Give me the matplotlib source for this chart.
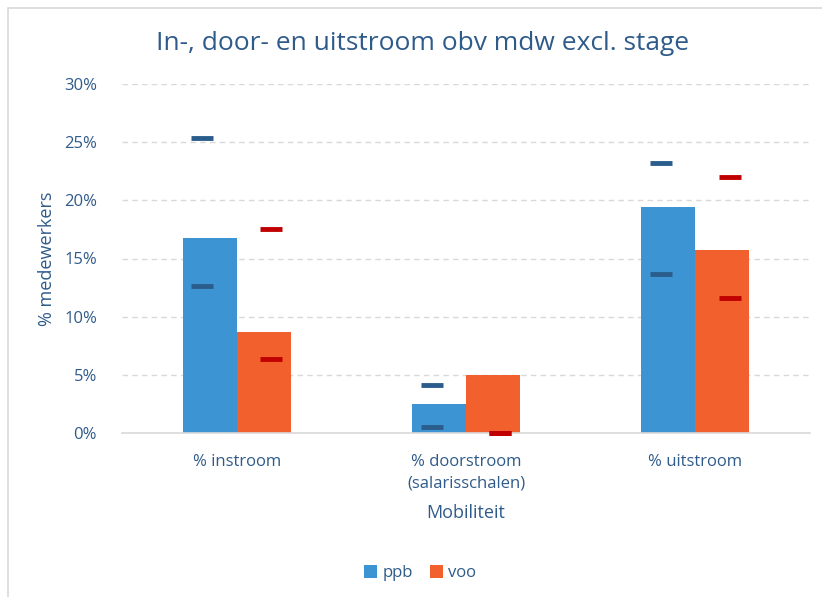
import matplotlib.pyplot as plt
import numpy as np
from matplotlib.patches import Rectangle

categories = ["% instroom", "% doorstroom\n(salarisschalen)", "% uitstroom"]
ppb = [16.8, 2.5, 19.4]
voo = [8.7, 5.0, 15.7]
ppb_high = [25.4, 4.1, 23.2]
ppb_low = [12.6, 0.5, 13.7]
voo_high = [17.5, 0.0, 22.0]
voo_low = [6.4, 0.0, 11.6]

TXT = "#2F5B8A"
C_PPB = "#3C94D3"
C_VOO = "#F2602E"
C_PPB_M = "#2B5D8C"
C_VOO_M = "#C00000"

plt.rcParams['font.family'] = ['Open Sans', 'DejaVu Sans']

fig = plt.figure(figsize=(8.22, 5.97), dpi=100)
ax = fig.add_axes([122 / 822, 1 - 433 / 597, 688 / 822, 349 / 597])

# outer chart border (cropped at right/bottom)
fig.patches.append(Rectangle((8 / 822, -0.1), 2, 1 - 8 / 597 + 0.1,
                             transform=fig.transFigure, fill=False,
                             edgecolor="#D9D9D9", linewidth=1.2))

x = np.arange(len(categories))
w = 0.236
ax.bar(x - w / 2, ppb, w, color=C_PPB, label="ppb", zorder=2)
ax.bar(x + w / 2, voo, w, color=C_VOO, label="voo", zorder=2)

off = 0.15
ax.scatter(x - off, ppb_high, marker="_", s=230, linewidths=3.5, color=C_PPB_M, zorder=3)
ax.scatter(x - off, ppb_low, marker="_", s=230, linewidths=3.5, color=C_PPB_M, zorder=3)
ax.scatter(x + off, voo_high, marker="_", s=230, linewidths=3.5, color=C_VOO_M, zorder=3, clip_on=False)
ax.scatter(x + off, voo_low, marker="_", s=230, linewidths=3.5, color=C_VOO_M, zorder=3, clip_on=False)

ax.set_xlim(-0.5, 2.5)
ax.set_ylim(0, 30)
ax.set_yticks(range(0, 31, 5))
ax.set_yticklabels([f"{v}%" for v in range(0, 31, 5)])
ax.set_xticks(x)
ax.set_xticklabels(categories, linespacing=1.5)
ax.tick_params(axis="both", length=0, colors=TXT, labelsize=12)
ax.tick_params(axis="y", pad=18)
ax.tick_params(axis="x", pad=15)
ax.yaxis.grid(True, color="#D9D9D9", linestyle=(0, (4, 3)), linewidth=1, zorder=0)
ax.set_axisbelow(True)
for s in ["top", "right", "left"]:
    ax.spines[s].set_visible(False)
ax.spines["bottom"].set_color("#D9D9D9")
ax.spines["bottom"].set_linewidth(1.2)

ax.set_ylabel("% medewerkers", color=TXT, fontsize=13, labelpad=6)
ax.set_xlabel("Mobiliteit", color=TXT, fontsize=13, labelpad=9)
fig.text(423 / 822, 1 - 43 / 597, "In-, door- en uitstroom obv mdw excl. stage",
         ha="center", va="center", color=TXT, fontsize=19)

leg = fig.legend(handles=ax.containers, labels=["ppb", "voo"], loc="center",
                 bbox_to_anchor=(420 / 822, 1 - 573 / 597), ncol=2, frameon=False,
                 handlelength=0.8, handleheight=0.8, handletextpad=0.3,
                 columnspacing=1.0, fontsize=12)
for t in leg.get_texts():
    t.set_color(TXT)

fig.savefig("out.png", dpi=100)
